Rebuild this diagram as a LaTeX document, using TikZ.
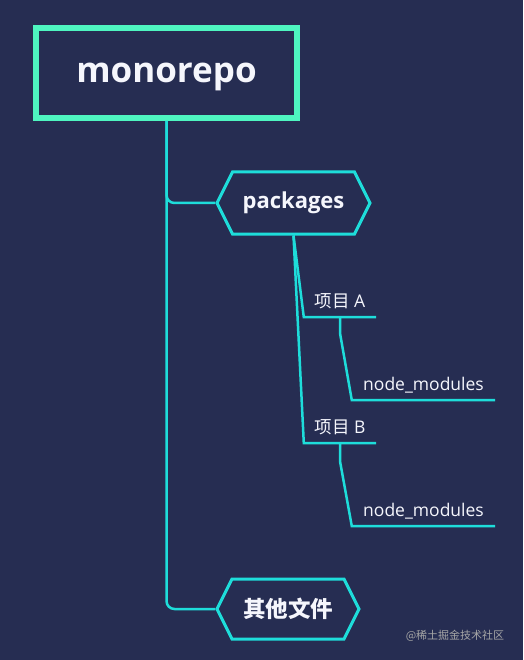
\documentclass[tikz,border=0pt]{standalone}
\usepackage{fontspec}
\setmainfont{Open Sans}
\newfontfamily\cjk{Noto Sans CJK SC}
\usetikzlibrary{shapes.symbols}
\definecolor{bgblue}{RGB}{38,45,82}
\definecolor{mint}{RGB}{78,245,192}
\definecolor{cyanline}{RGB}{30,221,218}
\definecolor{lighttext}{RGB}{245,246,252}
\begin{document}
\begin{tikzpicture}[x=1pt, y=-1pt,
  rootbox/.style={draw=mint, line width=6pt, minimum width=261pt, minimum height=90pt, text depth=0pt, text=lighttext, font=\fontsize{35}{40}\selectfont\bfseries},
  hexbox/.style={draw=cyanline, line width=3pt, signal, signal to=east and west, signal pointer angle=127, text=lighttext, font=\fontsize{22}{26}\selectfont\bfseries},
  branch/.style={text=lighttext, text height=12pt, text depth=3pt, inner xsep=0pt, inner ysep=7pt, anchor=base, font=\fontsize{17.5}{20}\selectfont},
  conn/.style={draw=cyanline, line width=2.5pt}
]
\fill[bgblue] (0,0) rectangle (523,660);
\useasboundingbox (0,0) rectangle (523,660);
\node[rootbox] (root) at (166.5,73) {monorepo};
\node[hexbox, minimum width=153pt, minimum height=62pt] (pkg) at (293.5,203) {packages};
\node[hexbox, minimum width=142pt, minimum height=60pt, font=\cjk\fontsize{22.5}{26}\selectfont\bfseries] (other) at (288,609) {其他文件};
\node[branch, minimum width=72pt] (itemA) at (340,307) {{\cjk 项目} A};
\node[branch, minimum width=72pt] (itemB) at (340,433) {{\cjk 项目} B};
\node[branch, minimum width=143pt] (nmA) at (423.5,390) {node\_modules};
\node[branch, minimum width=143pt] (nmB) at (423.5,516) {node\_modules};
\node[text=gray!70, font=\cjk\fontsize{11}{13}\selectfont] (mark) at (455,636) {@稀土掘金技术社区};
\draw[conn, rounded corners=8pt] (root.south) |- (pkg.west);
\draw[conn, rounded corners=8pt] (root.south) |- (other.west);
\draw[conn] (pkg.south) -- (itemA.south west) -- (itemA.south east);
\draw[conn] (pkg.south) -- (itemB.south west) -- (itemB.south east);
\draw[conn] (itemA.south) -- ++(0,16) -- (nmA.south west) -- (nmA.south east);
\draw[conn] (itemB.south) -- ++(0,18) -- (nmB.south west) -- (nmB.south east);
\end{tikzpicture}
\end{document}
